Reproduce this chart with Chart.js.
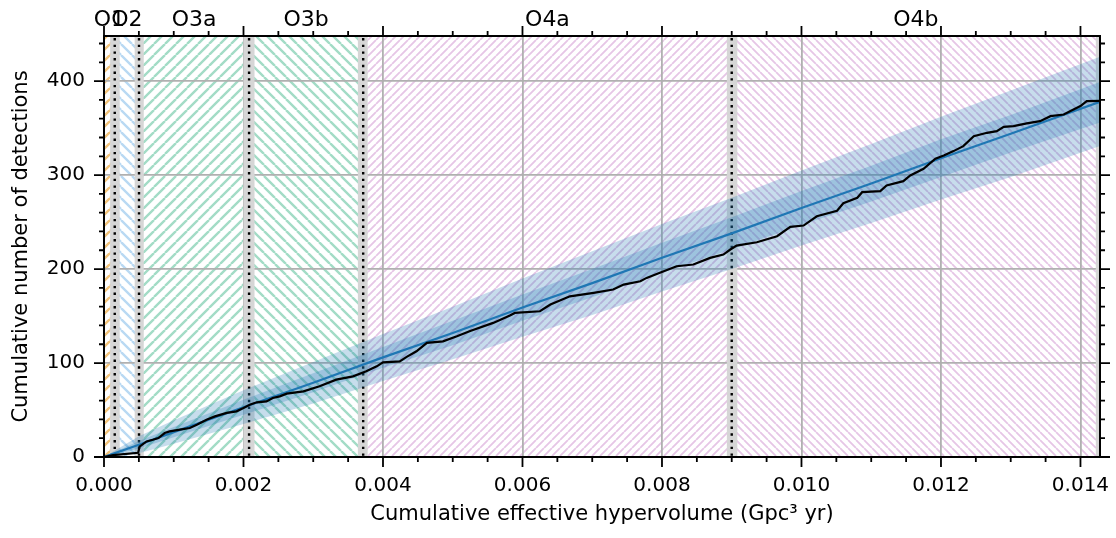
<!DOCTYPE html>
<html>
<head>
<meta charset="utf-8">
<style>
  html, body { margin: 0; padding: 0; background: #fff; }
  #wrap { width: 1116px; height: 538px; }
</style>
<script src="https://cdn.jsdelivr.net/npm/chart.js@4.4.1/dist/chart.umd.min.js"></script>
</head>
<body>
<div id="wrap"><canvas id="hvChart" width="1116" height="538"></canvas></div>
<script>
// === Data ===
const X_MAX = 0.01428,
    Y_MAX = 448;
const X_TICKS = [0, 0.002, 0.004, 0.006, 0.008, 0.010, 0.012, 0.014];
const Y_TICKS = [0, 100, 200, 300, 400];

// observing runs and the gaps between them
const RUN_LABELS = ['O1', 'O2', 'O3a', 'O3b', 'O4a', 'O4b'];
const RUN_EDGES = [0, 0.000154, 0.000502, 0.00208, 0.003716, 0.009, 0.01428];
const GAP_START = [0.000088, 0.00044, 0.002, 0.00364, 0.00893, 0.01422];
const GAP_END = [0.000225, 0.00057, 0.002158, 0.00378, 0.00908, 0.01428];

// expected count with 1σ / 2σ bands
const BAND_X = [0, 0.0005, 0.001, 0.002, 0.003, 0.004, 0.005, 0.006, 0.007, 0.008, 0.009, 0.010, 0.011, 0.012, 0.013, 0.01428];
const EXPECTED = [0, 13, 26.5, 53, 79, 106, 132, 159, 185, 212, 238, 265, 291, 318, 344, 378];
const INNER_HI = [0, 17, 32, 61, 89, 117, 145, 173, 200, 228, 255, 283, 310, 338, 364, 399];
const INNER_LO = [0, 9, 21, 45, 69, 95, 119, 145, 170, 196, 221, 247, 272, 298, 324, 356];
const OUTER_HI = [0, 22, 39, 71, 101, 131, 160, 190, 219, 248, 276, 305, 333, 362, 390, 426];
const OUTER_LO = [0, 4, 14, 35, 57, 81, 104, 128, 151, 176, 200, 225, 249, 274, 298, 331];

// observed cumulative detections
const STEP_X = [0, 0.00013, 0.00049, 0.00051, 0.00061, 0.0007, 0.00078, 0.00087, 0.00094, 0.00109,
    0.00123, 0.00133, 0.00147, 0.00159, 0.00176, 0.0019, 0.002, 0.00209, 0.00219, 0.00233,
    0.00242, 0.00252, 0.00262, 0.00286, 0.00309, 0.00333, 0.00357, 0.00376, 0.00391, 0.004,
    0.00424, 0.00434, 0.00448, 0.00463, 0.00486, 0.00506, 0.00525, 0.00558, 0.00582, 0.00589,
    0.00625, 0.0064, 0.00668, 0.00702, 0.0073, 0.00745, 0.00769, 0.00778, 0.00797, 0.00821,
    0.00845, 0.00869, 0.00888, 0.00898, 0.00907, 0.00936, 0.00965, 0.00984, 0.01003, 0.01022,
    0.01051, 0.0106, 0.0108, 0.01087, 0.01113, 0.01122, 0.01146, 0.01156, 0.01175, 0.01192,
    0.01204, 0.01218, 0.01232, 0.01247, 0.01266, 0.0128, 0.0129, 0.01304, 0.01323, 0.01342,
    0.01357, 0.01376, 0.01385, 0.014, 0.01409, 0.01428];
const STEP_Y = [0, 2, 4.5, 11, 16.6, 18.4, 20.2, 25.5, 27.3, 29.1,
    30.9, 34.4, 39.7, 43.2, 46.9, 48.6, 52.2, 55.7, 58.2, 59.2,
    62.8, 64.5, 67.4, 69.9, 75.2, 82.3, 85.8, 91.2, 96.5, 100.7,
    101.8, 106.5, 112.5, 121.4, 123.1, 128.4, 134, 142.7, 150.5, 153.3,
    155.1, 162.2, 171, 174.7, 178.2, 183.5, 187, 190.6, 196, 203,
    204.8, 211.9, 215.4, 220.8, 225, 228.5, 234.9, 244.9, 246.3, 256.2,
    262, 270, 275.8, 281.8, 282.9, 288.9, 293.5, 299.6, 306.7, 317.4,
    320.9, 325.5, 330.8, 341.4, 345, 346.7, 351.4, 352.1, 355, 357.4,
    362.7, 364.5, 368, 373.4, 378.7, 379];

// === Styles ===
const FONT = 'DejaVu Sans';
const BLUE = '#1f77b4';
const GRID = '#b0b0b0';
const RUN_HATCH = [
    { color: '#f2c47c', dir: '/', gap: 11, width: 2.4 },
    { color: '#b9d9f3', dir: '\\', gap: 11, width: 2.4 },
    { color: '#a3dcc6', dir: '/', gap: 11, width: 2.4 },
    { color: '#a3dcc6', dir: '\\', gap: 11, width: 2.4 },
    { color: '#e6c6e6', dir: '/', gap: 8, width: 1.8 },
    { color: '#e6c6e6', dir: '\\', gap: 8, width: 1.8 }
];

Chart.defaults.font.family = FONT;
Chart.defaults.color = '#000';

function makeHatch(ctx, h) {
    const s = h.gap;
    const c = document.createElement('canvas');
    c.width = s;
    c.height = s;
    const g = c.getContext('2d');
    g.strokeStyle = h.color;
    g.lineWidth = h.width;
    g.beginPath();
    for (const k of [-s, 0, s]) {
        if (h.dir === '/') {
            g.moveTo(k, s);
            g.lineTo(k + s, 0);
        } else {
            g.moveTo(k, 0);
            g.lineTo(k + s, s);
        }
    }
    g.stroke();
    return ctx.createPattern(c, 'repeat');
}

const pts = (xs, ys) => xs.map((x, i) => ({ x, y: ys[i] }));

function clipArea(ctx, a) {
    ctx.beginPath();
    ctx.rect(a.left, a.top, a.right - a.left, a.bottom - a.top);
    ctx.clip();
}

const overlay = {
    id: 'overlay',
    beforeDraw(chart) {
        const { ctx, chartArea: a, scales: { x } } = chart;
        ctx.save();
        clipArea(ctx, a);
        ctx.fillStyle = '#fff';
        ctx.fillRect(a.left, a.top, a.right - a.left, a.bottom - a.top);
        RUN_LABELS.forEach((_, i) => {
            const x0 = x.getPixelForValue(RUN_EDGES[i]);
            const x1 = x.getPixelForValue(RUN_EDGES[i + 1]);
            ctx.fillStyle = makeHatch(ctx, RUN_HATCH[i]);
            ctx.fillRect(x0, a.top, x1 - x0, a.bottom - a.top);
        });
        ctx.restore();
    },
    beforeDatasetsDraw(chart) {
        const { ctx, chartArea: a, scales: { x } } = chart;
        ctx.save();
        clipArea(ctx, a);
        ctx.fillStyle = '#d6d6d6';
        GAP_START.forEach((g, i) => {
            const x0 = x.getPixelForValue(g);
            const x1 = x.getPixelForValue(GAP_END[i]);
            ctx.fillRect(x0, a.top, x1 - x0, a.bottom - a.top);
        });
        ctx.strokeStyle = '#000';
        ctx.lineWidth = 2.4;
        ctx.setLineDash([2.4, 4.3]);
        for (let i = 1; i < RUN_EDGES.length - 1; i++) {
            const px = x.getPixelForValue(RUN_EDGES[i]);
            ctx.beginPath();
            ctx.moveTo(px, a.top + 2);
            ctx.lineTo(px, a.bottom);
            ctx.stroke();
        }
        ctx.restore();
    },
    afterDraw(chart) {
        const { ctx, chartArea: a, scales: { x, y } } = chart;
        ctx.save();
        ctx.strokeStyle = '#000';
        ctx.lineWidth = 2;
        ctx.strokeRect(a.left, a.top, a.right - a.left, a.bottom - a.top);

        // ticks on all four sides, pointing out
        ctx.lineWidth = 1.8;
        ctx.beginPath();
        for (let v = 0; v <= X_MAX + 1e-9; v += 0.0005) {
            const major = Math.abs(v / 0.002 - Math.round(v / 0.002)) < 1e-6;
            const len = major ? 10 : 5;
            const px = x.getPixelForValue(v);
            ctx.moveTo(px, a.bottom);
            ctx.lineTo(px, a.bottom + len);
            ctx.moveTo(px, a.top);
            ctx.lineTo(px, a.top - len);
        }
        for (let v = 0; v <= Y_MAX; v += 20) {
            const len = v % 100 === 0 ? 10 : 5;
            const py = y.getPixelForValue(v);
            ctx.moveTo(a.left, py);
            ctx.lineTo(a.left - len, py);
            ctx.moveTo(a.right, py);
            ctx.lineTo(a.right + len, py);
        }
        ctx.stroke();

        // run names above the frame
        ctx.fillStyle = '#000';
        ctx.font = `22px "${FONT}"`;
        ctx.textAlign = 'center';
        ctx.textBaseline = 'middle';
        RUN_LABELS.forEach((name, i) => {
            const mid = (RUN_EDGES[i] + RUN_EDGES[i + 1]) / 2;
            ctx.fillText(name, x.getPixelForValue(mid), 20);
        });
        ctx.restore();
    }
};

const hvChart = new Chart(document.getElementById('hvChart'), {
    type: 'line',
    data: {
        datasets: [{
            label: 'Observed',
            data: pts(STEP_X, STEP_Y),
            borderColor: '#000',
            borderWidth: 2.2,
            pointRadius: 0,
            fill: false
        }, {
            label: 'Expected',
            data: pts(BAND_X, EXPECTED),
            borderColor: BLUE,
            borderWidth: 2.2,
            pointRadius: 0,
            fill: false
        }, {
            label: 'inner hi',
            data: pts(BAND_X, INNER_HI),
            borderColor: 'transparent',
            borderWidth: 0,
            pointRadius: 0,
            fill: false
        }, {
            label: 'inner lo',
            data: pts(BAND_X, INNER_LO),
            borderColor: 'transparent',
            borderWidth: 0,
            pointRadius: 0,
            fill: '-1',
            backgroundColor: 'rgba(31,119,180,0.25)'
        }, {
            label: 'outer hi',
            data: pts(BAND_X, OUTER_HI),
            borderColor: 'transparent',
            borderWidth: 0,
            pointRadius: 0,
            fill: false
        }, {
            label: 'outer lo',
            data: pts(BAND_X, OUTER_LO),
            borderColor: 'transparent',
            borderWidth: 0,
            pointRadius: 0,
            fill: '-1',
            backgroundColor: 'rgba(31,119,180,0.25)'
        }]
    },
    options: {
        responsive: false,
        animation: false,
        parsing: false,
        devicePixelRatio: 1,
        layout: {
            padding: { top: 36, right: 16, left: 0, bottom: 0 }
        },
        elements: { line: { tension: 0 } },
        scales: {
            x: {
                type: 'linear',
                min: 0,
                max: X_MAX,
                afterBuildTicks: (s) => { s.ticks = X_TICKS.map(v => ({ value: v })); },
                afterFit: (s) => {
                    s.height = 81;
                    s.paddingLeft = 0;
                    s.paddingRight = 0;
                },
                ticks: {
                    padding: 17,
                    maxRotation: 0,
                    autoSkip: false,
                    font: { size: 20 },
                    callback: (v) => Number(v).toFixed(3)
                },
                grid: { color: GRID, lineWidth: 1.8, drawTicks: false },
                border: { display: false },
                title: {
                    display: true,
                    text: 'Cumulative effective hypervolume (Gpc³ yr)',
                    font: { size: 21 },
                    padding: { top: 0, bottom: 11 }
                }
            },
            y: {
                min: 0,
                max: Y_MAX,
                afterBuildTicks: (s) => { s.ticks = Y_TICKS.map(v => ({ value: v })); },
                afterFit: (s) => {
                    s.width = 104;
                    s.paddingTop = 0;
                    s.paddingBottom = 0;
                },
                ticks: {
                    padding: 19,
                    font: { size: 20 },
                    callback: (v) => String(v)
                },
                grid: { color: GRID, lineWidth: 1.8, drawTicks: false },
                border: { display: false },
                title: {
                    display: true,
                    text: 'Cumulative number of detections',
                    font: { size: 21 },
                    padding: { top: 9, bottom: 0 }
                }
            }
        },
        plugins: {
            legend: { display: false },
            tooltip: { enabled: false }
        }
    },
    plugins: [overlay]
});
</script>
</body>
</html>
